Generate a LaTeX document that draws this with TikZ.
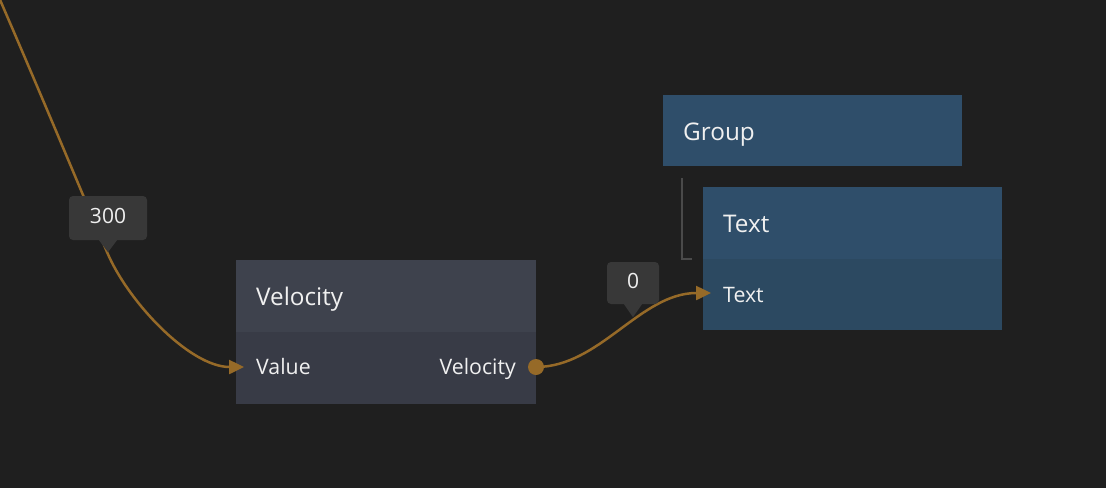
\documentclass[tikz,border=0pt]{standalone}
\usepackage{fontspec}
\setmainfont{Open Sans}
\usetikzlibrary{arrows.meta}
\definecolor{bg}{HTML}{1F1F1F}
\definecolor{velhead}{HTML}{3E424D}
\definecolor{velbody}{HTML}{383B46}
\definecolor{bluehead}{HTML}{2F4E6A}
\definecolor{bluebody}{HTML}{2C4961}
\definecolor{edgecol}{HTML}{966A28}
\definecolor{labelbg}{HTML}{383838}
\definecolor{txt}{HTML}{F0F0F0}
\definecolor{brk}{HTML}{4A4A4A}
\tikzset{
  panel/.style={draw=none, inner sep=0pt, outer sep=0pt, anchor=north west},
  headtxt/.style={text=txt, font=\fontsize{24.3}{28}\selectfont, inner sep=0pt, anchor=base west},
  porttxt/.style={text=txt, font=\fontsize{21.3}{25}\selectfont, inner sep=0pt},
  valbox/.style={fill=labelbg, rounded corners=4pt, text=txt, inner sep=0pt},
  valtxt/.style={text=txt, font=\fontsize{21}{25}\selectfont, inner sep=0pt, anchor=base},
  wire/.style={draw=edgecol, line width=2.5pt},
  wiretip/.style={-{Triangle[length=15pt,width=14pt]}},
  bracketline/.style={draw=brk, line width=1.5pt}
}
\begin{document}
\begin{tikzpicture}[x=1pt,y=-1pt]
\fill[bg] (0,0) rectangle (1106,488);
\useasboundingbox (0,0) rectangle (1106,488);
% Velocity node
\node[panel, fill=velhead, minimum width=300pt, minimum height=72pt] (velh) at (236,260) {};
\node[panel, fill=velbody, minimum width=300pt, minimum height=72pt] (velb) at (236,332) {};
\node[headtxt] (veltitle) at (256,305) {Velocity};
\node[porttxt, anchor=base west] (valport) at (256,374) {Value};
\node[porttxt, anchor=base east] (velport) at (516,374) {Velocity};
% Group node
\node[panel, fill=bluehead, minimum width=299pt, minimum height=71pt] (grp) at (663,95) {};
\node[headtxt] (grptitle) at (683,140) {Group};
% Text node
\node[panel, fill=bluehead, minimum width=299pt, minimum height=72pt] (txth) at (703,187) {};
\node[panel, fill=bluebody, minimum width=299pt, minimum height=71pt] (txtb) at (703,259) {};
\node[headtxt] (txttitle) at (723,232) {Text};
\node[porttxt, anchor=base west] (txtport) at (723,302) {Text};
% hierarchy bracket
\coordinate (bA) at (682,178);
\coordinate (bB) at (682,259);
\coordinate (bC) at (692,259);
\draw[bracketline] (bA) -- (bB) -- (bC);
% connector coordinates
\coordinate (src) at (-6,-14);
\coordinate (p300) at (107,252);
\coordinate (valin) at (244,367);
\coordinate (velout) at (536,367);
\coordinate (txtin) at (711,293);
% wires
\draw[wire, wiretip] (src) .. controls (35,80) and (85,200) .. (p300)
   .. controls (128,302) and (190,367) .. (valin);
\draw[wire, wiretip] (velout) .. controls (600,367) and (640,293) .. (txtin);
\fill[edgecol] (velout) circle (8pt);
% value labels
\node[valbox, minimum width=78pt, minimum height=44pt] (l300) at (108,218) {};
\fill[labelbg] ([xshift=-9pt]l300.south) -- ([yshift=-12pt]l300.south) -- ([xshift=9pt]l300.south) -- cycle;
\node[valtxt] (t300) at (108,223) {300};
\node[valbox, minimum width=52pt, minimum height=42pt] (l0) at (633,283) {};
\fill[labelbg] ([xshift=-9pt]l0.south) -- ([yshift=-13pt]l0.south) -- ([xshift=9pt]l0.south) -- cycle;
\node[valtxt] (t0) at (633,288) {0};
\end{tikzpicture}
\end{document}
